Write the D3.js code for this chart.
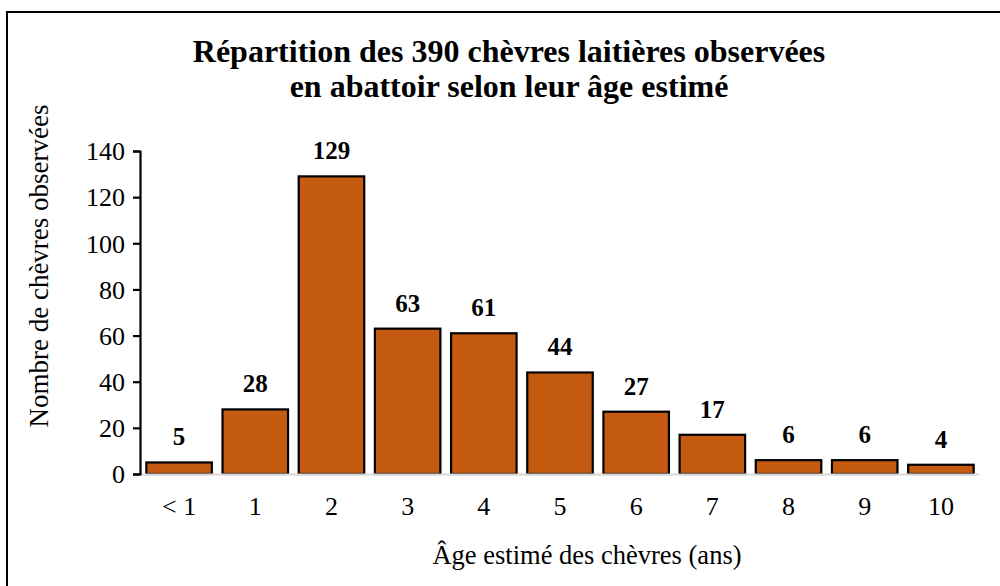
<!DOCTYPE html>
<html>
<head>
<meta charset="utf-8">
<script src="https://cdn.jsdelivr.net/npm/d3@7"></script>
<style>
  html, body { margin: 0; padding: 0; background: #fff; }
  svg { display: block; font-family: "Liberation Serif", "Times New Roman", serif; }
</style>
</head>
<body>
<svg id="chart" width="1000" height="586"></svg>
<script>
// Age classes (years) and number of goats observed in each
const ages = ["< 1", "1", "2", "3", "4", "5", "6", "7", "8", "9", "10"];
const counts = [5, 28, 129, 63, 61, 44, 27, 17, 6, 6, 4];
const yTicks = [0, 20, 40, 60, 80, 100, 120, 140];
const titleLines = ["Répartition des 390 chèvres laitières observées", "en abattoir selon leur âge estimé"];
const xTitle = "Âge estimé des chèvres (ans)";
const yTitle = "Nombre de chèvres observées";

const FONT = "'Liberation Serif', 'Times New Roman', serif";
const svg = d3.select("#chart");
const W = 1000, H = 586;
const plot = { left: 141, right: 979, top: 151, bottom: 474 };

// outer frame
svg.append("rect")
  .attr("x", 7).attr("y", 12)
  .attr("width", W + 10).attr("height", H + 10)
  .attr("fill", "none").attr("stroke", "#000").attr("stroke-width", 2);

const x = d3.scaleBand().domain(ages)
  .range([plot.left, plot.right]).paddingInner(0.14).paddingOuter(0.07);
const y = d3.scaleLinear().domain([0, 140]).range([plot.bottom, plot.top]);

// title
svg.append("text")
  .attr("text-anchor", "middle")
  .attr("font-family", FONT)
  .attr("font-weight", "bold").attr("font-size", 32)
  .selectAll("tspan").data(titleLines).join("tspan")
  .attr("x", 509).attr("y", (d, i) => 62 + i * 35)
  .text(d => d);

// bars
svg.append("g").selectAll("rect").data(counts).join("rect")
  .attr("x", (d, i) => x(ages[i]))
  .attr("y", d => y(d))
  .attr("width", x.bandwidth())
  .attr("height", d => y(0) - y(d))
  .attr("fill", "#C55A11")
  .attr("stroke", "#000").attr("stroke-width", 2.2);

// x axis baseline
svg.append("line")
  .attr("x1", plot.left).attr("x2", plot.right)
  .attr("y1", y(0) + 0.5).attr("y2", y(0) + 0.5)
  .attr("stroke", "#d9d9d9").attr("stroke-width", 2);

// y axis
const yAxis = svg.append("g")
  .attr("transform", `translate(${plot.left - 1},0)`)
  .call(d3.axisLeft(y).tickValues(yTicks).tickSize(7).tickPadding(8));
yAxis.select(".domain").attr("stroke", "#000").attr("stroke-width", 2.2);
yAxis.selectAll(".tick line").attr("stroke", "#000").attr("stroke-width", 2.2);
yAxis.selectAll(".tick text")
  .attr("font-family", FONT)
  .attr("font-size", 26).attr("fill", "#000").attr("dy", "0.34em");

// x axis labels
const xAxis = svg.append("g")
  .attr("transform", `translate(0,${plot.bottom})`)
  .call(d3.axisBottom(x).tickSize(0).tickPadding(23));
xAxis.select(".domain").remove();
xAxis.selectAll(".tick text")
  .attr("font-family", FONT)
  .attr("font-size", 26).attr("fill", "#000");

// value labels
svg.append("g").selectAll("text").data(counts).join("text")
  .attr("x", (d, i) => x(ages[i]) + x.bandwidth() / 2)
  .attr("y", d => y(d) - 17)
  .attr("text-anchor", "middle")
  .attr("font-family", FONT)
  .attr("font-weight", "bold").attr("font-size", 25)
  .text(d => d);

// axis titles
svg.append("text")
  .attr("x", 587).attr("y", 564)
  .attr("text-anchor", "middle")
  .attr("font-family", FONT).attr("font-size", 26.5)
  .text(xTitle);

svg.append("text")
  .attr("transform", "translate(48,266) rotate(-90)")
  .attr("text-anchor", "middle")
  .attr("font-family", FONT).attr("font-size", 27)
  .text(yTitle);
</script>
</body>
</html>
